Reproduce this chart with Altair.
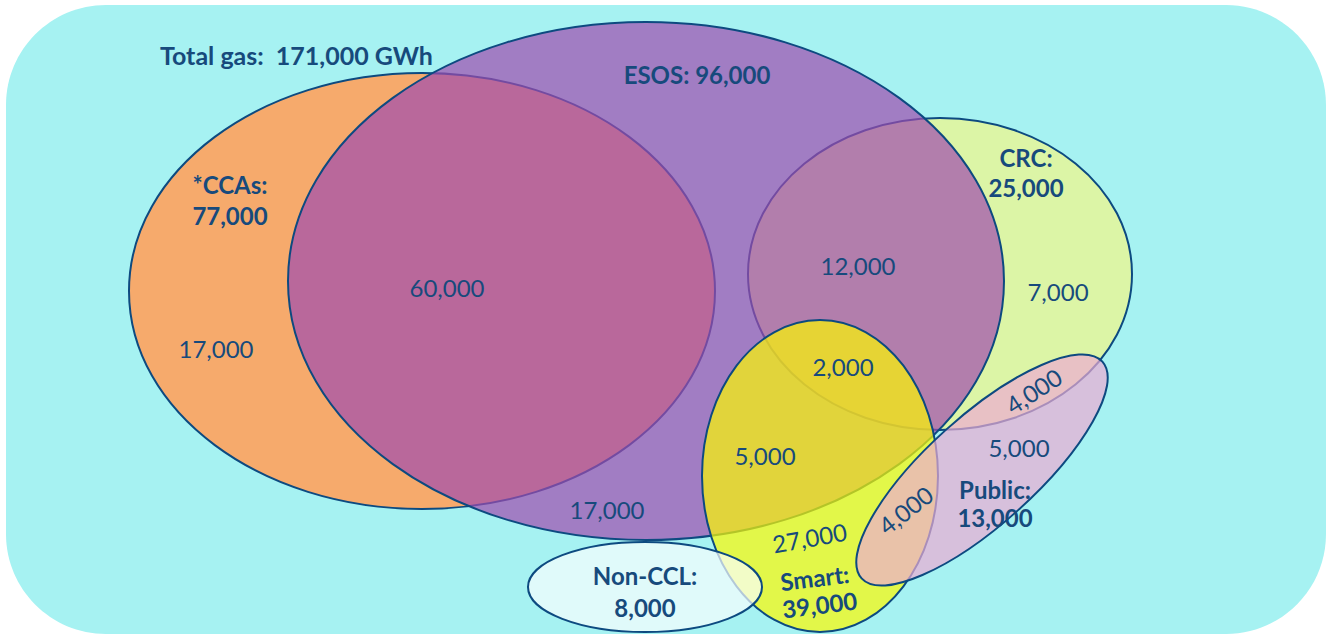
import altair as alt
import pandas as pd

W, H = 1330, 635

# Backdrop panel (left, right, top, bottom)
panel = pd.DataFrame({"x0": [6], "x1": [1326], "y0": [5], "y1": [634]})

# Sets drawn as ellipses, bottom to top
set_names = ["CCAs", "CRC", "ESOS", "Smart", "Public", "Non-CCL"]
set_cx = [422, 940, 646, 820, 982, 645]
set_cy = [291, 274, 281, 476, 470, 587]
set_rx = [293, 192, 358, 118, 162, 117]
set_ry = [218, 156, 259, 156, 54, 45]
set_tilt = [0, 0, 0, 0, 318, 0]
set_fill = ["#f6aa6c", "#dcf5a6", "#a04caf", "#fcf902", "#edabd3", "#fafdfd"]
set_alpha = [1.0, 1.0, 0.7, 0.7, 0.7, 0.7]

# Overall total (left-aligned heading)
title_text = ["Total gas:\u00a0\u00a0171,000 GWh"]
title_x = [160]
title_y = [57]

# Bold set labels
head_text = ["ESOS: 96,000", "*CCAs:", "77,000",
             "CRC:", "25,000", "Public:", "13,000", "Non-CCL:", "8,000",
             "Smart:", "39,000"]
head_x = [697, 230, 230, 1026, 1026, 995, 995, 645, 645, 815, 820]
head_y = [77, 187, 218, 160, 190, 492, 520, 578, 610, 580, 607]
head_rot = [0, 0, 0, 0, 0, 0, 0, 0, 0, 353, 353]

# Region values
val_text = ["60,000", "17,000", "12,000", "7,000", "2,000", "5,000", "17,000",
            "27,000", "5,000", "4,000", "4,000"]
val_x = [447, 216, 858, 1058, 843, 765, 607, 810, 1019, 1035, 907]
val_y = [290, 351, 268, 294, 369, 458, 512, 540, 450, 393, 512]
val_rot = [0, 0, 0, 0, 0, 0, 0, 350, 0, 327, 322]

K = 0.5523


def ellipse_path(ratio):
    e = ratio
    k = K
    return (f"M1,0 C1,{k*e:.4f} {k:.4f},{e:.4f} 0,{e:.4f} "
            f"C{-k:.4f},{e:.4f} -1,{k*e:.4f} -1,0 "
            f"C-1,{-k*e:.4f} {-k:.4f},{-e:.4f} 0,{-e:.4f} "
            f"C{k:.4f},{-e:.4f} 1,{-k*e:.4f} 1,0 Z")


sets = pd.DataFrame({
    "name": set_names, "cx": set_cx, "cy": set_cy,
    "tilt": set_tilt, "fill": set_fill, "alpha": set_alpha,
})
sets["z"] = range(len(sets))
sets["path"] = [ellipse_path(ry / rx) for rx, ry in zip(set_rx, set_ry)]
sets["area"] = [(2 * rx) ** 2 for rx in set_rx]

titles = pd.DataFrame({"t": title_text, "x": title_x, "y": title_y})
heads = pd.DataFrame({"t": head_text, "x": head_x, "y": head_y, "rot": head_rot})
vals = pd.DataFrame({"t": val_text, "x": val_x, "y": val_y, "rot": val_rot})

xs = alt.Scale(domain=[0, W], range=[0, W], nice=False, zero=False)
ys = alt.Scale(domain=[0, H], range=[0, H], nice=False, zero=False)
noax = None

bg = alt.Chart(panel).mark_rect(fill="#a6f2f2", cornerRadius=100).encode(
    x=alt.X("x0:Q", scale=xs, axis=noax),
    x2="x1:Q",
    y=alt.Y("y0:Q", scale=ys, axis=noax),
    y2="y1:Q",
)

ell = alt.Chart(sets).mark_point(
    filled=True, opacity=1, stroke="#0d4a80", strokeWidth=2
).encode(
    x=alt.X("cx:Q", scale=xs, axis=noax),
    y=alt.Y("cy:Q", scale=ys, axis=noax),
    shape=alt.Shape("path:N", scale=None),
    size=alt.Size("area:Q", scale=None),
    angle=alt.Angle("tilt:Q", scale=None),
    fill=alt.Fill("fill:N", scale=None),
    fillOpacity=alt.FillOpacity("alpha:Q", scale=None),
    order=alt.Order("z:Q"),
)

FONT = "Lato"
TXT = "#174a7c"

title_layer = alt.Chart(titles).mark_text(
    font=FONT, fontSize=25, fontWeight="bold", color=TXT, baseline="middle",
    align="left"
).encode(
    x=alt.X("x:Q", scale=xs, axis=noax),
    y=alt.Y("y:Q", scale=ys, axis=noax),
    text="t:N",
)

head_layer = alt.Chart(heads).mark_text(
    font=FONT, fontSize=24, fontWeight="bold", color=TXT, baseline="middle"
).encode(
    x=alt.X("x:Q", scale=xs, axis=noax),
    y=alt.Y("y:Q", scale=ys, axis=noax),
    text="t:N",
    angle=alt.Angle("rot:Q", scale=None),
)

val_layer = alt.Chart(vals).mark_text(
    font=FONT, fontSize=24, color=TXT, baseline="middle"
).encode(
    x=alt.X("x:Q", scale=xs, axis=noax),
    y=alt.Y("y:Q", scale=ys, axis=noax),
    text="t:N",
    angle=alt.Angle("rot:Q", scale=None),
)

chart = alt.layer(bg, ell, title_layer, head_layer, val_layer).properties(
    width=W, height=H, padding=0, autosize="none", background="white"
).configure_view(stroke=None)

chart.save("out.html", embed_options={"renderer": "svg", "actions": False})
